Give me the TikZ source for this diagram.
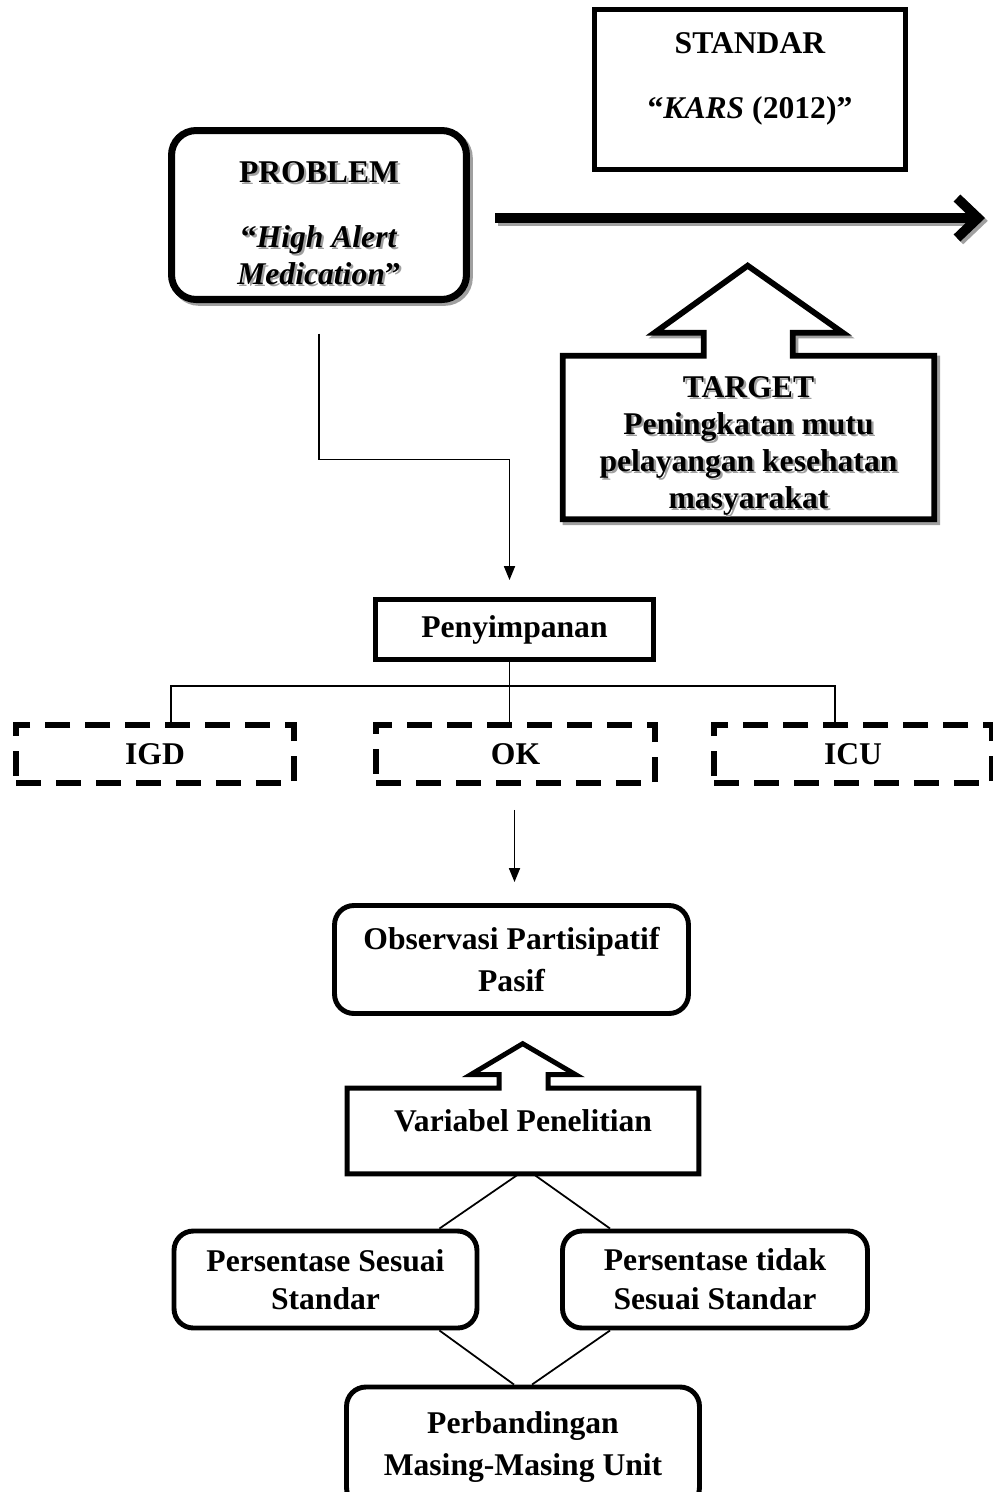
\documentclass[tikz,border=0pt]{standalone}
\usepackage{fontspec}
\setmainfont{Liberation Serif}
\usetikzlibrary{arrows.meta,positioning,calc}
\definecolor{shadowgray}{RGB}{160,160,160}
\newcommand{\shadowtxt}[1]{\leavevmode\rlap{\hspace{1.3pt}\raisebox{-1.3pt}{\textcolor{shadowgray}{#1}}}#1}
\tikzset{
  lbl/.style={font=\fontsize{18}{22}\selectfont\bfseries, align=center, inner sep=0pt},
  sqbox/.style={draw, line width=2.8pt, inner sep=0pt, lbl},
  rndbox/.style={sqbox, rounded corners=11pt},
  dashbox/.style={draw, line width=3.4pt, dash pattern=on 0.5cm off 0.3cm, inner sep=0pt, lbl},
  conn/.style={line width=1pt},
  dropshd/.style={preaction={draw=shadowgray, line width=#1, transform canvas={xshift=1.6pt, yshift=-1.6pt}}},
  upshape/.style={line width=3.3pt, line join=miter, fill=white},
}
\begin{document}
\begin{tikzpicture}[x=0.02cm, y=-0.02cm]
  \useasboundingbox (0,0) rectangle (993,1492);
  \clip (0,0) rectangle (993,1492);

  % Problem and standard
  \node[rndbox, line width=4pt, rounded corners=14pt, minimum width=5.9cm, minimum height=3.38cm, fill=white, dropshd=4pt] (prob) at (319,215) {};
  \node[lbl] (probtxt) at (319,224) {\shadowtxt{PROBLEM}\\[15pt]\shadowtxt{“\textit{High Alert}}\\[-1pt]\shadowtxt{\textit{Medication}”}};
  \node[sqbox, minimum width=6.22cm, minimum height=3.2cm] (std) at (750,89.5) {};
  \node[lbl] (stdtxt) at (750,79) {STANDAR\\[15pt]“\textit{KARS} (2012)”};

  % Main arrow
  \coordinate (arrend) at (985,218);
  \draw[line width=5.5pt, -{Straight Barb[length=0.42cm, width=0.8cm]}, dropshd=5.5pt] ($(prob.east)+(25.5,3)$) -- (arrend);

  % Target
  \node[minimum width=7.42cm, minimum height=3.26cm, inner sep=0pt] (tgtbox) at (748.5,437.5) {};
  \draw[upshape, dropshd=3.3pt] (tgtbox.north west) -- ++(141,0) -- ++(0,-23) -- ++(-49,0) -- ++(93,-67) -- ++(95,67) -- ++(-50,0) -- ++(0,23) -- (tgtbox.north east) -- (tgtbox.south east) -- (tgtbox.south west) -- cycle;
  \node[lbl, font=\fontsize{18}{21}\selectfont\bfseries] (tgttxt) at (748.5,447) {\shadowtxt{TARGET}\\\shadowtxt{Peningkatan mutu}\\\shadowtxt{pelayangan kesehatan}\\\shadowtxt{masyarakat}};

  % Storage and units
  \node[sqbox, minimum width=5.56cm, minimum height=1.2cm] (pen) at (514.5,629.5) {Penyimpanan};
  \draw[conn, -{Triangle[length=0.28cm, width=0.22cm]}] ($(prob.south)+(0,30.5)$) -- ++(0,126) -| ($(pen.north)+(-5,-17)$);
  \node[dashbox, minimum width=5.56cm, minimum height=1.16cm] (igd) at (155,754) {IGD};
  \node[dashbox, minimum width=5.58cm, minimum height=1.16cm] (ok) at (515.5,754) {OK};
  \node[dashbox, minimum width=5.56cm, minimum height=1.16cm] (icu) at (853,754) {ICU};
  \draw[conn] ($(pen.south)+(-5,0)$) -- ($(ok.north)+(-6,0)$);
  \draw[conn] ($(igd.north)+(16,0)$) -- ++(0,-36) -| ($(icu.north)+(-18,0)$);

  % Observation
  \node[rndbox, minimum width=7.08cm, minimum height=2.16cm] (obs) at (511.5,959.5) {Observasi Partisipatif\\[2pt]Pasif};
  \draw[conn, -{Triangle[length=0.28cm, width=0.22cm]}] ($(ok.south)+(-1,24)$) -- ($(ok.south |- obs.north)+(-1,-21)$);

  % Variables
  \node[minimum width=7.02cm, minimum height=1.7cm, inner sep=0pt] (varbox) at (523,1131) {};
  \draw[upshape, line width=2.8pt] (varbox.north west) -- ++(152,0) -- ++(0,-13.5) -- ++(-28.5,0) -- ++(52,-31) -- ++(53,31) -- ++(-27.5,0) -- ++(0,13.5) -- (varbox.north east) -- (varbox.south east) -- (varbox.south west) -- cycle;
  \node[lbl] (vartxt) at (523,1121) {Variabel Penelitian};
  \node[rndbox, minimum width=6.06cm, minimum height=1.94cm] (pss) at (325.5,1279.5) {Persentase Sesuai\\Standar};
  \node[rndbox, minimum width=6.1cm, minimum height=1.94cm] (pts) at (715,1279.5) {Persentase tidak\\Sesuai Standar};
  \node[rndbox, minimum width=7.06cm, minimum height=2.4cm] (cmp) at (523,1447) {Perbandingan\\[2pt]Masing-Masing Unit};
  \draw[conn] ($(varbox.south)+(-4,0)$) -- ($(pss.north east)+(-40,0)$);
  \draw[conn] ($(varbox.south)+(10,0)$) -- ($(pts.north west)+(50,0)$);
  \draw[conn] ($(pss.south east)+(-40,0)$) -- ($(cmp.north)+(-9,0)$);
  \draw[conn] ($(pts.south west)+(50,0)$) -- ($(cmp.north)+(9,0)$);
\end{tikzpicture}
\end{document}
